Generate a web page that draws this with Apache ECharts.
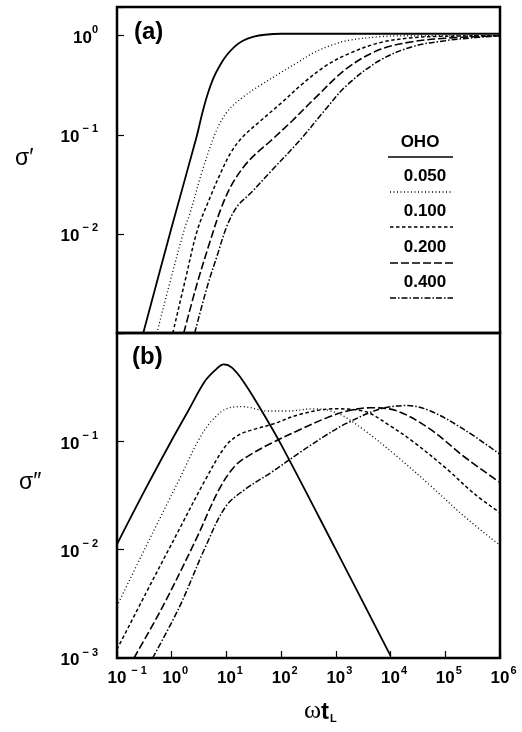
<!DOCTYPE html>
<html>
<head>
<meta charset="utf-8">
<script src="https://cdn.jsdelivr.net/npm/echarts@6/dist/echarts.min.js"></script>
<style>
  html, body { margin: 0; padding: 0; background: #fff; }
  #chart { width: 522px; height: 732px; }
</style>
</head>
<body>
<div id="chart"></div>
<script>
// values as [log10(wt_L), log10(sigma)]
// (a) sigma' curves
var realOho0 = [[-0.52,-3],[0,-1.93],[0.45,-1.03],[0.55,-0.8],[0.65,-0.6],[0.76,-0.43],[0.88,-0.3],[1,-0.2],[1.15,-0.11],[1.3,-0.05],[1.5,-0.01],[1.7,0.01],[2,0.02],[3,0.02],[4,0.02],[5,0.02],[6,0.02]];
var realOho050 = [[-0.27,-3],[0,-2.42],[0.25,-1.92],[0.33,-1.8],[0.55,-1.38],[0.8,-0.98],[1.01,-0.77],[1.3,-0.62],[1.62,-0.5],[2,-0.37],[2.3,-0.27],[2.6,-0.17],[2.9,-0.1],[3.2,-0.05],[3.8,-0.01],[4.4,0],[6,0]];
var realOho100 = [[0.02,-3],[0.25,-2.46],[0.47,-1.96],[0.71,-1.62],[0.89,-1.39],[1.08,-1.18],[1.3,-1.02],[1.6,-0.87],[2,-0.68],[2.4,-0.48],[2.8,-0.31],[3.2,-0.19],[3.8,-0.07],[4.4,-0.02],[5,-0.005],[6,0]];
var realOho200 = [[0.22,-3],[0.47,-2.49],[0.71,-2.06],[0.89,-1.76],[1.08,-1.52],[1.32,-1.32],[1.56,-1.18],[1.81,-1.06],[2.2,-0.86],[2.6,-0.64],[3.2,-0.33],[3.8,-0.14],[4.4,-0.06],[5,-0.025],[5.6,-0.008],[6,0]];
var realOho400 = [[0.42,-3],[0.65,-2.53],[0.83,-2.22],[1.01,-1.92],[1.2,-1.72],[1.44,-1.59],[1.81,-1.37],[2.35,-1.05],[2.8,-0.75],[3.2,-0.5],[3.8,-0.25],[4.4,-0.11],[5,-0.05],[5.6,-0.016],[6,0]];
// (b) sigma'' curves
var imagOho0 = [[-1,-1.95],[-0.5,-1.46],[0,-0.99],[0.3,-0.72],[0.6,-0.45],[0.8,-0.34],[0.95,-0.29],[1.1,-0.32],[1.3,-0.44],[1.6,-0.68],[2,-1.03],[3,-2],[4,-2.98]];
var imagOho050 = [[-1,-2.52],[-0.47,-1.97],[0.14,-1.35],[0.5,-0.98],[0.75,-0.8],[1.05,-0.69],[1.3,-0.68],[1.75,-0.72],[2.1,-0.72],[2.6,-0.7],[3.03,-0.74],[3.5,-0.89],[4.12,-1.14],[4.73,-1.41],[5.34,-1.69],[6,-1.96]];
var imagOho100 = [[-1,-2.92],[-0.47,-2.4],[0.14,-1.81],[0.62,-1.35],[0.99,-1.04],[1.23,-0.94],[1.5,-0.89],[1.85,-0.84],[2.35,-0.75],[2.96,-0.7],[3.5,-0.72],[4,-0.86],[4.43,-1.01],[5.04,-1.26],[5.52,-1.48],[6,-1.66]];
var imagOho200 = [[-0.69,-3],[-0.17,-2.53],[0.44,-1.91],[0.87,-1.44],[1.17,-1.22],[1.48,-1.11],[1.81,-1.02],[2.35,-0.89],[2.8,-0.79],[3.21,-0.72],[3.63,-0.69],[4.12,-0.72],[4.73,-0.89],[5.34,-1.14],[6,-1.38]];
var imagOho400 = [[-0.35,-3],[0.14,-2.53],[0.62,-1.97],[0.99,-1.6],[1.35,-1.44],[1.81,-1.29],[2.35,-1.1],[2.8,-0.95],[3.21,-0.83],[3.82,-0.7],[4.31,-0.67],[4.73,-0.72],[5.34,-0.89],[6,-1.12]];

var ohoLabels = ['0.050', '0.100', '0.200', '0.400'];

var FONT = '"Liberation Sans", Arial, Helvetica, sans-serif';

function toPts(arr) {
  return arr.map(function (p) { return [Math.pow(10, p[0]), Math.pow(10, p[1])]; });
}

function isDecade(v) {
  var l = Math.log10(v);
  return Math.abs(l - Math.round(l)) < 1e-6;
}

function supText(e) {
  return e < 0 ? ' \u2212 ' + (-e) : '' + e;
}

var supRich = {
  b: { fontFamily: FONT, fontSize: 17, fontWeight: 'bold', color: '#000', lineHeight: 22, verticalAlign: 'bottom' },
  s: { fontFamily: FONT, fontSize: 11, fontWeight: 'bold', color: '#000', lineHeight: 22, verticalAlign: 'top' },
  sn: { fontFamily: FONT, fontSize: 11, fontWeight: 'bold', color: '#000', lineHeight: 22, verticalAlign: 'top', width: 22 },
  sp: { fontFamily: FONT, fontSize: 11, fontWeight: 'bold', color: '#000', lineHeight: 22, verticalAlign: 'top', width: 8 },
  pn: { width: 22, lineHeight: 22 },
  pp: { width: 8, lineHeight: 22 }
};

function yLabel(skip) {
  return function (v) {
    if (!isDecade(v)) return '';
    var e = Math.round(Math.log10(v));
    if (e === skip) return '';
    return '{b|10}{s|' + supText(e) + '}';
  };
}

function xLabel(v) {
  if (!isDecade(v)) return '';
  var e = Math.round(Math.log10(v));
  // pad on the left so that "10" sits centred on the tick
  if (e < 0) return '{pn|}{b|10}{sn|' + supText(e) + '}';
  return '{pp|}{b|10}{sp|' + e + '}';
}

var tick = { show: true, inside: true, length: 7, lineStyle: { color: '#000', width: 1.2 } };

var dashes = ['solid', [1, 2.5], [3.5, 2.5], [8, 3], [6, 2, 1.5, 2]];
var widths = [1.8, 1.3, 1.5, 1.6, 1.5];
var realSets = [realOho0, realOho050, realOho100, realOho200, realOho400];
var imagSets = [imagOho0, imagOho050, imagOho100, imagOho200, imagOho400];

var series = [];
realSets.forEach(function (d, i) {
  series.push({
    type: 'line', xAxisIndex: 0, yAxisIndex: 0, data: toPts(d),
    showSymbol: false, smooth: 0.35, clip: true, silent: true,
    lineStyle: { color: '#000', width: widths[i], type: dashes[i] }
  });
});
imagSets.forEach(function (d, i) {
  series.push({
    type: 'line', xAxisIndex: 1, yAxisIndex: 1, data: toPts(d),
    showSymbol: false, smooth: 0.35, clip: true, silent: true,
    lineStyle: { color: '#000', width: widths[i], type: dashes[i] }
  });
});

// legend block drawn as text over a line sample
var graphics = [
  { type: 'text', left: 134, top: 20, style: { text: '(a)', font: 'bold 24px ' + FONT, fill: '#000' } },
  { type: 'text', left: 132, top: 345, style: { text: '(b)', font: 'bold 24px ' + FONT, fill: '#000' } },
  { type: 'text', left: 15, top: 147, style: { text: 'σ\u2032', font: '23px ' + FONT, fill: '#000' } },
  { type: 'text', left: 19, top: 471, style: { text: 'σ\u2033', font: '23px ' + FONT, fill: '#000' } },
  { type: 'text', left: 304, top: 698, style: {
      text: '{w|ω}{t|t}{l|L}',
      rich: {
        w: { fontFamily: '"Liberation Serif", "Times New Roman", serif', fontSize: 26, lineHeight: 28, verticalAlign: 'bottom', fill: '#000' },
        t: { fontFamily: FONT, fontWeight: 'bold', fontSize: 24, lineHeight: 28, verticalAlign: 'bottom', fill: '#000' },
        l: { fontFamily: FONT, fontWeight: 'bold', fontSize: 11, lineHeight: 28, verticalAlign: 'bottom', padding: [0, 0, 0, 1], fill: '#000' }
      }
  } },
  { type: 'text', x: 420, y: 142, style: { text: 'OHO', font: 'bold 17px ' + FONT, fill: '#000', align: 'center', verticalAlign: 'middle' } },
  { type: 'line', shape: { x1: 388, y1: 157, x2: 453, y2: 157 }, style: { stroke: '#000', lineWidth: 1.6 } }
];
var legendY = [176, 211, 247, 282];
ohoLabels.forEach(function (t, i) {
  graphics.push({ type: 'text', x: 425, y: legendY[i], style: { text: t, font: 'bold 17px ' + FONT, fill: '#000', align: 'center', verticalAlign: 'middle' } });
  graphics.push({ type: 'line', shape: { x1: 390, y1: legendY[i] + 16, x2: 453, y2: legendY[i] + 16 },
    style: { stroke: '#000', lineWidth: widths[i + 1], lineDash: dashes[i + 1] } });
});

var option = {
  backgroundColor: '#fff',
  animation: false,
  grid: [
    { left: 117, right: 22, top: 7, height: 326, show: true, borderColor: '#000', borderWidth: 2.5, backgroundColor: 'transparent' },
    { left: 117, right: 22, top: 333, height: 325, show: true, borderColor: '#000', borderWidth: 2.5, backgroundColor: 'transparent' }
  ],
  xAxis: [
    { type: 'log', gridIndex: 0, min: 0.1, max: 1e6, axisLine: { show: false }, axisTick: { show: false },
      axisLabel: { show: false }, splitLine: { show: false } },
    { type: 'log', gridIndex: 1, min: 0.1, max: 1e6, axisLine: { show: false }, axisTick: tick,
      splitLine: { show: false },
      axisLabel: { formatter: xLabel, margin: 7, rich: supRich } }
  ],
  yAxis: [
    { type: 'log', gridIndex: 0, min: 0.001, max: 1.95, axisLine: { show: false }, axisTick: tick,
      splitLine: { show: false },
      axisLabel: { formatter: yLabel(-3), margin: 19, rich: supRich } },
    { type: 'log', gridIndex: 1, min: 0.001, max: 1, axisLine: { show: false }, axisTick: tick,
      splitLine: { show: false },
      axisLabel: { formatter: yLabel(0), margin: 19, rich: supRich } }
  ],
  graphic: graphics,
  series: series
};

var myChart = echarts.init(document.getElementById('chart'));
myChart.setOption(option);
</script>
</body>
</html>
